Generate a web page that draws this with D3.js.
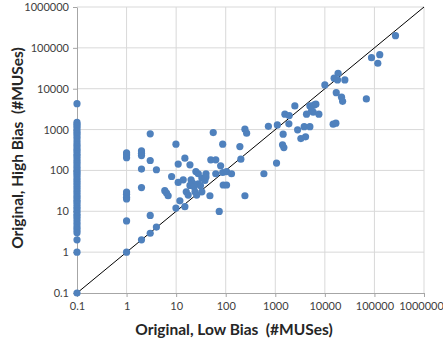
<!DOCTYPE html>
<html>
<head>
<meta charset="utf-8">
<script src="https://cdn.jsdelivr.net/npm/d3@7"></script>
<style>
  body { margin: 0; background: #fff; }
  svg { display: block; font-family: Lato, "Liberation Sans", sans-serif; }
</style>
</head>
<body>
<figure id="scatter" style="margin:0"></figure>
<script>
// tick values / labels (same on both log axes)
const tickValues = [0.1, 1, 10, 100, 1000, 10000, 100000, 1000000];
const tickLabels = ["0.1", "1", "10", "100", "1000", "10000", "100000", "1000000"];

// points with low bias = 0.1 (left column), high bias values
const colZeroHigh = [4300, 1500, 1350, 1200, 1050, 900, 800, 700, 600, 500, 430, 380, 330, 290, 250, 220,
  190, 165, 145, 125, 110, 95, 85, 75, 65, 57, 50, 44, 38, 33, 29, 25, 22, 19, 17, 15, 13, 11.5,
  10, 8.5, 7.5, 6.5, 5.5, 4.7, 4, 3.5, 3, 2, 1, 0.1];

// points with low bias = 1
const colOneHigh = [1, 5.8, 20, 22, 26, 29.5, 205, 240, 270];

// all other points: low bias (x) and high bias (y)
const lowBias = [2, 2, 2, 2, 2, 2, 3, 3, 3, 3, 4, 4,
  9.9, 11, 15, 19, 8.1, 11, 5.9, 6.4, 6.9, 9.9, 11.9, 15,
  56, 244, 264, 726, 87, 193, 50, 63, 79, 202, 25, 28, 40, 63, 87, 104, 131, 589, 89, 104, 244, 74, 48,
  13.9, 20, 21.5, 19, 33, 38, 28, 31, 23, 16, 17.5, 24, 26, 33, 40,
  10000, 17000, 21700, 22800, 2480, 4990, 6090, 6590, 5400, 5810, 4270, 7570, 1560, 1910, 1880, 1100,
  3830, 4990, 2820, 1440, 3280, 4080, 1400, 1490, 14700, 16700, 1060,
  266000, 87400, 128000, 117000, 18500, 15400, 18000, 25300, 68700];
const highBias = [301, 265, 231, 108, 38, 2, 785, 175, 7.9, 2.9, 104, 4.1,
  440, 143, 200, 137, 71, 51, 32, 28, 24, 12, 18, 13,
  845, 1020, 817, 1200, 440, 384, 182, 182, 130, 189, 94, 83, 83, 83, 89, 94, 83, 83, 44, 44, 24, 9.9, 24,
  59, 59, 49, 43, 65, 57, 47, 42, 40, 30, 25, 30, 25, 30, 69,
  12400, 8000, 6200, 4900, 3800, 3800, 4020, 4180, 2920, 2660, 2380, 2380, 2380, 2200, 1380, 1300,
  1180, 1180, 984, 772, 603, 663, 423, 363, 1355, 1430, 151,
  199000, 57500, 68200, 42000, 23900, 18100, 16400, 16400, 5640];

const points = colZeroHigh.map(v => ({x: 0.1, y: v}))
  .concat(colOneHigh.map(v => ({x: 1, y: v})))
  .concat(lowBias.map((v, i) => ({x: v, y: highBias[i]})));

const W = 443, H = 345;
const margin = {left: 77, right: 19, top: 7, bottom: 52};

const svg = d3.select("figure#scatter")
  .append("svg")
  .attr("width", W)
  .attr("height", H);

const x = d3.scaleLog().domain([0.1, 1000000]).range([margin.left, W - margin.right]);
const y = d3.scaleLog().domain([0.1, 1000000]).range([H - margin.bottom, margin.top]);

// gridlines
svg.append("g")
  .selectAll("line.v")
  .data(tickValues.slice(1))
  .join("line")
  .attr("x1", d => x(d)).attr("x2", d => x(d))
  .attr("y1", y(1000000)).attr("y2", y(0.1))
  .attr("stroke", "#d9d9d9");
svg.append("g")
  .selectAll("line.h")
  .data(tickValues.slice(1))
  .join("line")
  .attr("x1", x(0.1)).attr("x2", x(1000000))
  .attr("y1", d => y(d)).attr("y2", d => y(d))
  .attr("stroke", "#d9d9d9");

const fmt = d => tickLabels[tickValues.indexOf(d)];

// axes
const xAxis = svg.append("g")
  .attr("transform", "translate(0," + y(0.1) + ")")
  .call(d3.axisBottom(x).tickValues(tickValues).tickFormat(fmt).tickSize(4).tickSizeOuter(0));
const yAxis = svg.append("g")
  .attr("transform", "translate(" + x(0.1) + ",0)")
  .call(d3.axisLeft(y).tickValues(tickValues).tickFormat(fmt).tickSize(4).tickSizeOuter(0));

[xAxis, yAxis].forEach(a => {
  a.select(".domain").attr("stroke", "#a6a6a6");
  a.selectAll(".tick line").attr("stroke", "#a6a6a6");
  a.selectAll("text")
    .attr("fill", "#404040")
    .style("font-size", "11px")
    .style("font-family", "Lato, 'Liberation Sans', sans-serif");
});
xAxis.selectAll("text").attr("dy", "0.71em").attr("y", 9);
yAxis.selectAll("text").attr("x", -8);
// last x label sits right on the edge, pull it in a bit so it stays readable
xAxis.selectAll("text").filter(d => d === 1000000).attr("dx", -3);

// y = x reference line
svg.append("line")
  .attr("x1", x(0.1)).attr("y1", y(0.1))
  .attr("x2", x(1000000)).attr("y2", y(1000000))
  .attr("stroke", "#000")
  .attr("stroke-width", 1);

// points
svg.append("g")
  .selectAll("circle")
  .data(points)
  .join("circle")
  .attr("cx", d => x(d.x))
  .attr("cy", d => y(d.y))
  .attr("r", 3.6)
  .attr("fill", "#4f81bd");

// axis titles
svg.append("text")
  .attr("x", 234).attr("y", 335)
  .attr("text-anchor", "middle")
  .style("font-size", "15.5px").style("font-weight", "bold")
  .style("white-space", "pre")
  .attr("fill", "#262626")
  .text("Original, Low Bias  (#MUSes)");
svg.append("text")
  .attr("transform", "translate(23,148) rotate(-90)")
  .attr("text-anchor", "middle")
  .style("font-size", "15.5px").style("font-weight", "bold")
  .style("white-space", "pre")
  .attr("fill", "#262626")
  .text("Original, High Bias  (#MUSes)");
</script>
</body>
</html>
